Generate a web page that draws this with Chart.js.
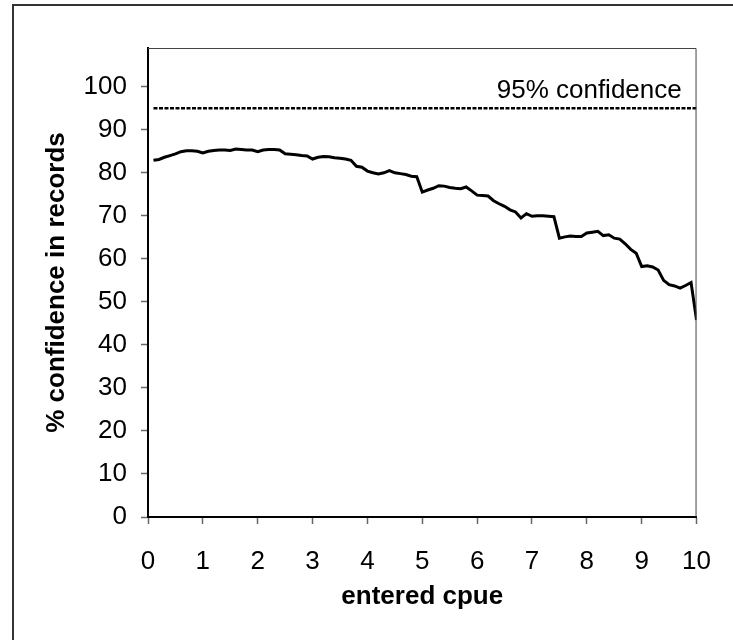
<!DOCTYPE html>
<html>
<head>
<meta charset="utf-8">
<script src="https://cdn.jsdelivr.net/npm/chart.js@4/dist/chart.umd.min.js"></script>
<style>
  html, body { margin: 0; padding: 0; background: #fff; }
  #wrap { position: relative; width: 733px; height: 640px; }
  #frame { position: absolute; left: 12px; top: 4px; width: 740px; height: 660px; border: 2px solid #333; box-sizing: border-box; pointer-events: none; }
  canvas { position: absolute; left: 0; top: 0; }
</style>
</head>
<body>
<div id="wrap">
  <canvas id="c" width="733" height="640"></canvas>
  <div id="frame"></div>
</div>
<script>
// entered cpue (x) values
const cpue = [0.1,0.2,0.3,0.4,0.5,0.6,0.7,0.8,0.9,1.0,
  1.1,1.2,1.3,1.4,1.5,1.6,1.7,1.8,1.9,2.0,
  2.1,2.2,2.3,2.4,2.5,2.6,2.7,2.8,2.9,3.0,
  3.1,3.2,3.3,3.4,3.5,3.6,3.7,3.8,3.9,4.0,
  4.1,4.2,4.3,4.4,4.5,4.6,4.7,4.8,4.9,5.0,
  5.1,5.2,5.3,5.4,5.5,5.6,5.7,5.8,5.9,6.0,
  6.1,6.2,6.3,6.4,6.5,6.6,6.7,6.8,6.9,7.0,
  7.1,7.2,7.3,7.4,7.5,7.6,7.7,7.8,7.9,8.0,
  8.1,8.2,8.3,8.4,8.5,8.6,8.7,8.8,8.9,9.0,
  9.1,9.2,9.3,9.4,9.5,9.6,9.7,9.8,9.9,10.0];
// % confidence in records
const confidence = [82.9,83.1,83.6,84.0,84.4,84.9,85.1,85.1,85.0,84.6,
  85.0,85.2,85.3,85.3,85.2,85.5,85.4,85.3,85.3,84.9,
  85.3,85.4,85.4,85.3,84.4,84.3,84.2,84.0,83.9,83.2,
  83.6,83.8,83.7,83.5,83.4,83.2,82.9,81.5,81.3,80.4,
  80.0,79.7,80.0,80.5,80.0,79.8,79.6,79.2,79.1,75.5,
  76.0,76.4,77.0,76.9,76.6,76.4,76.3,76.7,75.8,74.8,
  74.7,74.6,73.5,72.8,72.2,71.4,70.9,69.5,70.5,69.9,
  70.0,70.0,69.9,69.8,64.8,65.1,65.3,65.2,65.2,66.0,
  66.2,66.4,65.4,65.6,64.8,64.6,63.5,62.2,61.3,58.2,
  58.4,58.1,57.4,55.0,54.0,53.7,53.2,53.8,54.5,45.8];
// 95% confidence reference line
const refX = [0.1, 10.0];
const refY = [95, 95];
const refLabel = "95% confidence";
const xTitle = "entered cpue";
const yTitle = "% confidence in records";

const FONT = "'Liberation Sans', Arial, Helvetica, sans-serif";

const framePlugin = {
  id: 'framePlugin',
  afterDraw(chart) {
    const { ctx, chartArea: a, scales } = chart;
    ctx.save();
    ctx.strokeStyle = '#444';
    ctx.lineWidth = 1;
    ctx.beginPath();
    ctx.moveTo(a.left, a.top + 0.5);
    ctx.lineTo(a.right - 0.5, a.top + 0.5);
    ctx.lineTo(a.right - 0.5, a.bottom);
    ctx.stroke();
    ctx.fillStyle = '#000';
    ctx.font = "26px " + FONT;
    ctx.textAlign = 'right';
    ctx.textBaseline = 'alphabetic';
    ctx.fillText(refLabel, scales.x.getPixelForValue(9.73), scales.y.getPixelForValue(95) - 10);
    ctx.restore();
  }
};

new Chart(document.getElementById('c'), {
  type: 'line',
  data: {
    datasets: [
      {
        data: cpue.map((x, i) => ({ x, y: confidence[i] })),
        borderColor: '#000', borderWidth: 3, pointRadius: 0, tension: 0, fill: false
      },
      {
        data: refX.map((x, i) => ({ x, y: refY[i] })),
        borderColor: '#000', borderWidth: 2.5, borderDash: [4, 1.5], pointRadius: 0, fill: false
      }
    ]
  },
  options: {
    responsive: false,
    animation: false,
    layout: { padding: { left: 41, top: 48, right: 26, bottom: 28 } },
    plugins: { legend: { display: false }, tooltip: { enabled: false } },
    scales: {
      x: {
        type: 'linear', min: 0, max: 10,
        afterFit(s) { s.height = 95; },
        ticks: { stepSize: 1, color: '#000', font: { family: FONT, size: 26 }, padding: 22, maxRotation: 0 },
        grid: { drawOnChartArea: false, drawTicks: true, tickLength: 7, tickColor: '#666', tickWidth: 1.5 },
        border: { color: '#000', width: 2 },
        title: { display: true, text: xTitle, color: '#000', font: { family: FONT, size: 26, weight: 'bold' }, padding: 0 }
      },
      y: {
        min: 0, max: 109,
        afterFit(s) { s.width = 107; },
        afterBuildTicks(s) { s.ticks = s.ticks.filter(t => t.value <= 100); },
        ticks: { stepSize: 10, color: '#000', font: { family: FONT, size: 26 }, padding: 14 },
        grid: { drawOnChartArea: false, drawTicks: true, tickLength: 7, tickColor: '#666', tickWidth: 1.5 },
        border: { color: '#000', width: 2 },
        title: { display: true, text: yTitle, color: '#000', font: { family: FONT, size: 26, weight: 'bold' }, padding: 0 }
      }
    }
  },
  plugins: [framePlugin]
});
</script>
</body>
</html>
